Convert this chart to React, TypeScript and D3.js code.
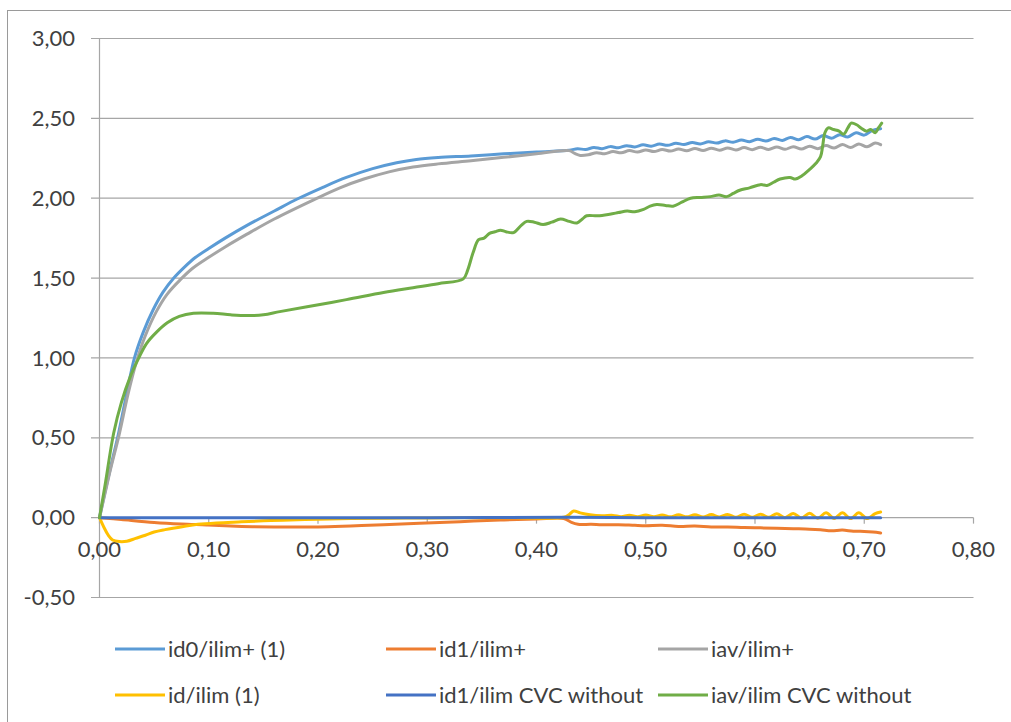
import React from "react";
import * as d3 from "d3";

// series data, as [x, y] pairs
const id0Plus: [number, number][] = [
  [0, 0], [0.005, 0.16], [0.01, 0.31], [0.0175, 0.53], [0.025, 0.78], [0.032, 1.0],
  [0.04, 1.16], [0.049, 1.3], [0.058, 1.41], [0.068, 1.5], [0.078, 1.57], [0.088, 1.63],
  [0.1, 1.685], [0.115, 1.75], [0.135, 1.83], [0.16, 1.92], [0.181, 1.995], [0.205, 2.07],
  [0.226, 2.13], [0.25, 2.185], [0.272, 2.222], [0.29, 2.243], [0.31, 2.255], [0.34, 2.265],
  [0.37, 2.278], [0.4, 2.29], [0.43, 2.3], [0.4375, 2.31], [0.445, 2.305], [0.4525, 2.318],
  [0.46, 2.31], [0.4675, 2.323], [0.475, 2.316], [0.4825, 2.329], [0.49, 2.321], [0.4975, 2.334],
  [0.505, 2.326], [0.5125, 2.339], [0.52, 2.331], [0.5275, 2.344], [0.535, 2.336], [0.5425, 2.349],
  [0.55, 2.34], [0.5575, 2.354], [0.565, 2.345], [0.5725, 2.359], [0.58, 2.35], [0.5875, 2.364],
  [0.595, 2.354], [0.6025, 2.369], [0.61, 2.358], [0.6175, 2.374], [0.625, 2.362], [0.6325, 2.38],
  [0.64, 2.366], [0.6475, 2.386], [0.655, 2.37], [0.6625, 2.392], [0.67, 2.376], [0.6775, 2.398],
  [0.685, 2.384], [0.6925, 2.41], [0.7, 2.395], [0.7075, 2.425], [0.715, 2.435],
];

const id1Plus: [number, number][] = [
  [0, 0], [0.02, -0.012], [0.05, -0.03], [0.075, -0.04], [0.098, -0.046], [0.12, -0.053],
  [0.14, -0.057], [0.17, -0.059], [0.2, -0.058], [0.23, -0.052], [0.26, -0.045], [0.293, -0.035],
  [0.33, -0.025], [0.367, -0.015], [0.4, -0.008], [0.425, -0.005], [0.432, -0.03], [0.438, -0.042],
  [0.45, -0.042], [0.46, -0.045], [0.475, -0.044], [0.49, -0.048], [0.5, -0.05], [0.515, -0.048],
  [0.53, -0.055], [0.545, -0.053], [0.56, -0.058], [0.575, -0.058], [0.59, -0.062], [0.605, -0.064],
  [0.62, -0.066], [0.635, -0.069], [0.65, -0.072], [0.66, -0.076], [0.67, -0.082], [0.68, -0.078],
  [0.69, -0.085], [0.7, -0.086], [0.708, -0.09], [0.715, -0.096],
];

const iavPlus: [number, number][] = [
  [0, 0], [0.005, 0.15], [0.01, 0.3], [0.018, 0.52], [0.026, 0.77], [0.034, 0.98],
  [0.042, 1.14], [0.052, 1.29], [0.062, 1.4], [0.074, 1.49], [0.085, 1.56], [0.1, 1.63],
  [0.115, 1.695], [0.135, 1.775], [0.16, 1.87], [0.196, 1.99], [0.22, 2.065], [0.242, 2.12],
  [0.265, 2.165], [0.287, 2.195], [0.31, 2.215], [0.34, 2.235], [0.37, 2.256], [0.4, 2.278],
  [0.43, 2.298], [0.435, 2.28], [0.44, 2.268], [0.4475, 2.272], [0.455, 2.285], [0.4625, 2.278],
  [0.47, 2.292], [0.4775, 2.284], [0.485, 2.298], [0.4925, 2.289], [0.5, 2.302], [0.5075, 2.292],
  [0.515, 2.305], [0.5225, 2.295], [0.53, 2.308], [0.5375, 2.297], [0.545, 2.311], [0.5525, 2.299],
  [0.56, 2.313], [0.5675, 2.301], [0.575, 2.315], [0.5825, 2.302], [0.59, 2.317], [0.5975, 2.304],
  [0.605, 2.319], [0.6125, 2.305], [0.62, 2.321], [0.6275, 2.306], [0.635, 2.323], [0.6425, 2.308],
  [0.65, 2.326], [0.6575, 2.31], [0.665, 2.33], [0.6725, 2.314], [0.68, 2.336], [0.6875, 2.318],
  [0.695, 2.34], [0.7025, 2.322], [0.71, 2.345], [0.715, 2.335],
];

const idLim: [number, number][] = [
  [0, 0], [0.004, -0.06], [0.008, -0.11], [0.012, -0.14], [0.018, -0.15], [0.025, -0.148],
  [0.033, -0.13], [0.042, -0.11], [0.05, -0.09], [0.06, -0.075], [0.077, -0.055], [0.09, -0.042],
  [0.107, -0.033], [0.13, -0.026], [0.15, -0.02], [0.168, -0.016], [0.2, -0.01], [0.23, -0.006],
  [0.28, -0.003], [0.33, -0.001], [0.38, 0], [0.425, 0.002], [0.43, 0.02], [0.434, 0.042],
  [0.44, 0.03], [0.449, 0.018], [0.46, 0.012], [0.47, 0.014], [0.4775, 0.006], [0.485, 0.015],
  [0.4925, 0.006], [0.5, 0.016], [0.5075, 0.006], [0.515, 0.017], [0.5225, 0.005], [0.53, 0.018],
  [0.5375, 0.005], [0.545, 0.018], [0.5525, 0.004], [0.56, 0.019], [0.5675, 0.004], [0.575, 0.02],
  [0.5825, 0.003], [0.59, 0.021], [0.5975, 0.002], [0.605, 0.022], [0.6125, 0.002], [0.62, 0.024],
  [0.6275, 0], [0.635, 0.026], [0.6425, -0.002], [0.65, 0.028], [0.6575, -0.004], [0.665, 0.03],
  [0.6725, -0.005], [0.68, 0.031], [0.6875, -0.006], [0.695, 0.031], [0.7025, -0.006], [0.71, 0.025],
  [0.715, 0.035],
];

const id1Cvc: [number, number][] = [
  [0, 0], [0.1, 0], [0.2, 0], [0.3, 0], [0.43, 0.002], [0.5, 0], [0.6, 0], [0.715, 0],
];

const iavCvc: [number, number][] = [
  [0, 0], [0.005, 0.2], [0.013, 0.53], [0.02, 0.72], [0.028, 0.88], [0.036, 1.0],
  [0.043, 1.09], [0.052, 1.16], [0.062, 1.22], [0.073, 1.26], [0.086, 1.28], [0.104, 1.28],
  [0.12, 1.27], [0.135, 1.265], [0.15, 1.27], [0.165, 1.29], [0.19, 1.32], [0.226, 1.365],
  [0.26, 1.41], [0.287, 1.44], [0.31, 1.465], [0.333, 1.495], [0.337, 1.55], [0.342, 1.66],
  [0.347, 1.74], [0.352, 1.75], [0.357, 1.78], [0.362, 1.79], [0.367, 1.8], [0.372, 1.79],
  [0.379, 1.785], [0.386, 1.83], [0.391, 1.855], [0.398, 1.85], [0.406, 1.835], [0.414, 1.85],
  [0.422, 1.87], [0.43, 1.855], [0.437, 1.845], [0.442, 1.87], [0.446, 1.89], [0.456, 1.89],
  [0.467, 1.9], [0.475, 1.91], [0.483, 1.92], [0.49, 1.915], [0.498, 1.93], [0.504, 1.95],
  [0.51, 1.96], [0.518, 1.955], [0.525, 1.95], [0.533, 1.975], [0.541, 2.0], [0.55, 2.005],
  [0.559, 2.01], [0.567, 2.02], [0.574, 2.01], [0.58, 2.03], [0.586, 2.05], [0.595, 2.065],
  [0.605, 2.085], [0.611, 2.08], [0.617, 2.1], [0.623, 2.12], [0.632, 2.13], [0.637, 2.12],
  [0.643, 2.14], [0.65, 2.18], [0.656, 2.22], [0.66, 2.26], [0.662, 2.33], [0.664, 2.41],
  [0.667, 2.44], [0.672, 2.43], [0.677, 2.42], [0.681, 2.4], [0.685, 2.44], [0.688, 2.47],
  [0.693, 2.46], [0.697, 2.44], [0.702, 2.42], [0.706, 2.43], [0.71, 2.41], [0.713, 2.44],
  [0.716, 2.47],
];

const seriesNames = [
  "id0/ilim+ (1)",
  "id1/ilim+",
  "iav/ilim+",
  "id/ilim (1)",
  "id1/ilim CVC without",
  "iav/ilim CVC without",
];
const seriesData = [id0Plus, id1Plus, iavPlus, idLim, id1Cvc, iavCvc];
const seriesColors = ["#5b9bd5", "#ed7d31", "#a5a5a5", "#ffc000", "#4472c4", "#70ad47"];

const xTicks = [0, 0.1, 0.2, 0.3, 0.4, 0.5, 0.6, 0.7, 0.8];
const yTicks = [-0.5, 0, 0.5, 1, 1.5, 2, 2.5, 3];

const W = 1011;
const H = 722;
const FONT = "Lato, 'Noto Sans', sans-serif";
const TEXT = "#404040";
const GRID = "#a6a6a6";

export default function App() {
  const x = d3.scaleLinear().domain([0, 0.8]).range([99.5, 973.5]);
  const y = d3.scaleLinear().domain([-0.5, 3]).range([597.5, 38.5]);
  const fmt = (v: number) => d3.format(".2f")(v).replace(".", ",").replace("−", "-");

  const line = d3
    .line<[number, number]>()
    .x((d) => x(d[0]))
    .y((d) => y(d[1]))
    .curve(d3.curveCatmullRom.alpha(0.5));

  const legendCols = [115, 386, 658];
  const legendRows = [649, 695];

  return (
    <svg
      width={W}
      height={H}
      style={{ position: "absolute", left: 0, top: 0, background: "#fff" }}
      fontFamily={FONT}
    >
      <rect x={7.5} y={10.5} width={1100} height={800} fill="#fff" stroke="#9a9a9a" />

      {/* gridlines */}
      {yTicks.map((t) => (
        <line key={"g" + t} x1={91} x2={x(0.8)} y1={y(t)} y2={y(t)} stroke={GRID} strokeWidth={1.2} />
      ))}
      <line x1={x(0)} x2={x(0)} y1={y(3)} y2={y(-0.5)} stroke={GRID} strokeWidth={1.2} />
      {xTicks.map((t) => (
        <line key={"xt" + t} x1={x(t)} x2={x(t)} y1={y(0)} y2={y(0) + 6} stroke={GRID} strokeWidth={1.2} />
      ))}

      {/* y labels */}
      {yTicks.map((t) => (
        <text
          key={"yl" + t}
          x={75}
          y={y(t)}
          dy="0.35em"
          textAnchor="end"
          fontSize={22}
          fill={TEXT}
        >
          {fmt(t)}
        </text>
      ))}
      {/* x labels */}
      {xTicks.map((t) => (
        <text key={"xl" + t} x={x(t)} y={557} textAnchor="middle" fontSize={22} fill={TEXT}>
          {fmt(t)}
        </text>
      ))}

      {/* series */}
      {seriesData.map((d, i) => (
        <path
          key={"s" + i}
          d={line(d) || ""}
          fill="none"
          stroke={seriesColors[i]}
          strokeWidth={3}
          strokeLinejoin="round"
          strokeLinecap="round"
        />
      ))}

      {/* legend */}
      {seriesNames.map((name, i) => {
        const lx = legendCols[i % 3];
        const ly = legendRows[Math.floor(i / 3)];
        return (
          <g key={"lg" + i}>
            <line x1={lx} x2={lx + 50} y1={ly} y2={ly} stroke={seriesColors[i]} strokeWidth={3} />
            <text x={lx + 53} y={ly} dy="0.35em" fontSize={22} fill={TEXT}>
              {name}
            </text>
          </g>
        );
      })}
    </svg>
  );
}
